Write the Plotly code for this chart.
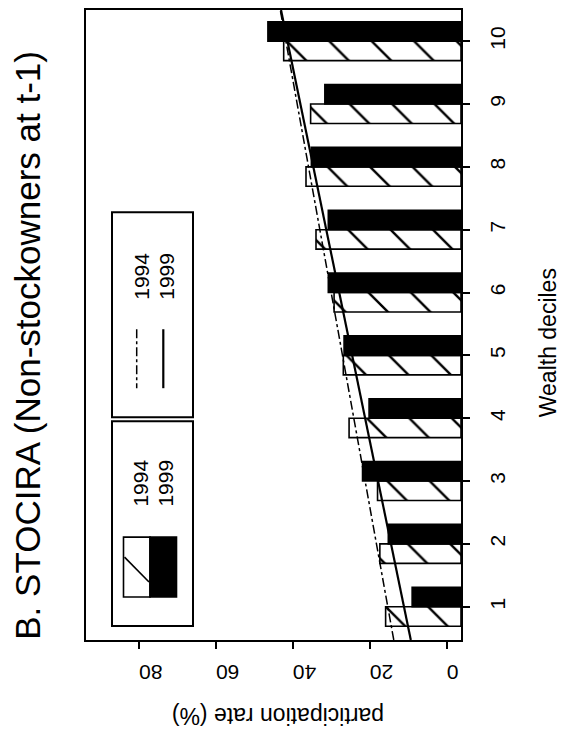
import numpy as np
import plotly.graph_objects as go

# ---------------- data ----------------
deciles = [1, 2, 3, 4, 5, 6, 7, 8, 9, 10]
rate_1994 = [15.9, 17.4, 18.0, 25.4, 26.9, 29.3, 34.0, 36.6, 35.4, 42.4]
rate_1999 = [9.0, 15.2, 21.9, 20.2, 26.7, 30.8, 30.8, 35.2, 31.7, 46.5]
x_ticks = [0, 20, 40, 60, 80]
series_names = ["1994", "1999"]
title_text = "B. STOCIRA (Non-stockowners at t-1)"
xlabel = "participation rate (%)"
ylabel = "Wealth deciles"

# ---------------- layout constants ----------------
OFF = 8                                # page body margin
W, H = 568 - OFF, 735 - OFF
L, R, T, B = 86, 461, 9.5, 640         # plot area in page pixels
XR = [93.8, -3.7]                      # reversed value axis
YR = [0.47, 10.496]
BAR_W = 0.31
FONT = "Liberation Sans"


def px2x(px):
    return (px - L) / (R - L)


def py2y(py):
    return (B - py) / (B - T)


fig = go.Figure()

d = np.array(deciles, dtype=float)
base = XR[1]

# 1994 hatched bars
fig.add_trace(go.Bar(
    orientation="h", y=d, x=np.array(rate_1994) - base, base=base,
    width=BAR_W, offset=-BAR_W, name=series_names[0],
    marker=dict(color="white", line=dict(color="black", width=1.6),
                pattern=dict(shape="\\", size=30, solidity=0.08, fgopacity=1,
                             fgcolor="black", bgcolor="white")),
))
# 1999 black bars
fig.add_trace(go.Bar(
    orientation="h", y=d, x=np.array(rate_1999) - base, base=base,
    width=BAR_W, offset=0, name=series_names[1],
    marker=dict(color="black", line=dict(color="black", width=1.6)),
))

# regression trend lines (fitted on bar centres)
c94 = np.polyfit(d - BAR_W / 2, rate_1994, 1)
c99 = np.polyfit(d + BAR_W / 2, rate_1999, 1)
yy = np.array(YR)
fig.add_trace(go.Scatter(x=np.polyval(c94, yy), y=yy, mode="lines",
                         line=dict(color="black", width=1.5, dash="dashdot"),
                         name=series_names[0]))
fig.add_trace(go.Scatter(x=np.polyval(c99, yy), y=yy, mode="lines",
                         line=dict(color="black", width=2.2),
                         name=series_names[1]))

fig.update_layout(
    width=W, height=H,
    margin=dict(l=L - OFF, r=W - (R - OFF), t=T - OFF, b=H - (B - OFF),
                pad=0, autoexpand=False),
    plot_bgcolor="white", paper_bgcolor="white",
    showlegend=False, barmode="overlay",
    font=dict(family=FONT, size=21, color="black"),
)
fig.update_xaxes(
    range=XR, tickvals=x_ticks, tickangle=180, automargin=False,
    ticks="outside", ticklen=7, tickwidth=1.5, tickcolor="black",
    ticklabelstandoff=12,
    showline=True, linecolor="black", linewidth=2, mirror=True,
    showgrid=False, zeroline=False, tickfont=dict(size=21, family=FONT),
)
fig.update_yaxes(
    range=YR, tickvals=deciles, side="right", tickangle=-90, automargin=False,
    ticks="outside", ticklen=7, tickwidth=1.5, tickcolor="black",
    ticklabelstandoff=10,
    showline=True, linecolor="black", linewidth=2, mirror=True,
    showgrid=False, zeroline=False, tickfont=dict(size=21, family=FONT),
)

ann = []
ann.append(dict(text=title_text, x=px2x(28), y=py2y(345.5), textangle=-90,
                font=dict(size=35, family=FONT)))
ann.append(dict(text=xlabel, x=px2x(278), y=py2y(716), textangle=180,
                font=dict(size=23, family=FONT)))
ann.append(dict(text=ylabel, x=px2x(548), y=py2y(343), textangle=-90,
                font=dict(size=23, family=FONT)))
# legend texts
for name, cx in zip(series_names, [141.5, 166.5]):
    ann.append(dict(text=name, x=px2x(cx), y=py2y(276), textangle=-90,
                    font=dict(size=21, family=FONT)))
    ann.append(dict(text=name, x=px2x(cx - 1), y=py2y(483), textangle=-90,
                    font=dict(size=21, family=FONT)))
for a in ann:
    a.update(xref="paper", yref="paper", showarrow=False,
             xanchor="center", yanchor="middle")
fig.update_layout(annotations=ann)

shapes = []


def rect(x0, y0, x1, y1, fill="rgba(0,0,0,0)", w=2):
    shapes.append(dict(type="rect", xref="paper", yref="paper",
                       x0=px2x(x0), x1=px2x(x1), y0=py2y(y0), y1=py2y(y1),
                       line=dict(color="black", width=w), fillcolor=fill))


def seg(x0, y0, x1, y1, w=2, dash="solid"):
    shapes.append(dict(type="line", xref="paper", yref="paper",
                       x0=px2x(x0), x1=px2x(x1), y0=py2y(y0), y1=py2y(y1),
                       line=dict(color="black", width=w, dash=dash)))


# legend boxes
rect(112, 212, 193, 417)
rect(112, 421, 193, 626)
# line samples
seg(136.7, 329, 136.7, 388, w=1.5, dash="dashdot")
seg(163.3, 329, 163.3, 388, w=2.2)
# fill samples
rect(123.5, 537, 150, 597, fill="white", w=1.6)
seg(124.5, 557, 149, 582, w=1.6)
rect(150, 537, 176.5, 597, fill="black", w=1.6)
fig.update_layout(shapes=shapes)

fig.write_html("out.html")
